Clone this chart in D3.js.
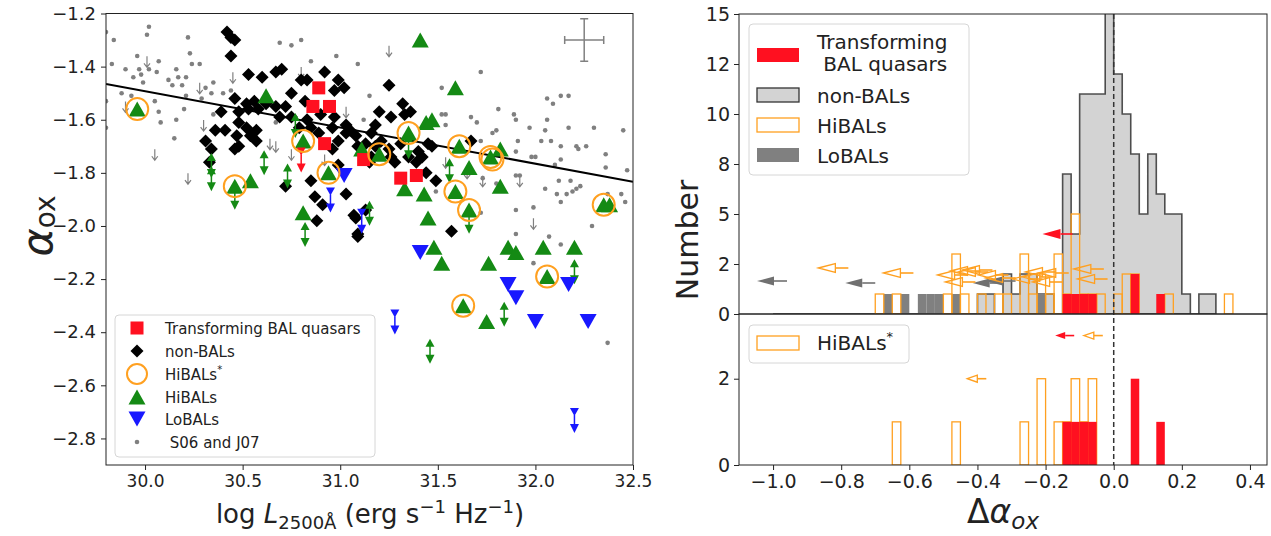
<!DOCTYPE html>
<html>
<head>
<meta charset="utf-8">
<script src="https://cdn.jsdelivr.net/npm/d3@7"></script>
<style>
  body { margin: 0; background: #fff; }
  svg { font-family: "DejaVu Sans", sans-serif; }
</style>
</head>
<body>
<svg id="chart" width="1271" height="536"></svg>
<script>
// ---------- left panel: alpha_ox vs log L2500 ----------
const transformingPts = [[30.89,-1.48],[30.86,-1.55],[30.945,-1.55],[30.92,-1.69],[31.12,-1.75],[31.31,-1.82],[31.39,-1.81]];
const transformingLim = [[30.80,-1.72]];
const nonBalPts = [[30.42,-1.27],[30.44,-1.29],[30.46,-1.30],[30.44,-1.36],[30.53,-1.43],[30.60,-1.44],[30.67,-1.42],[30.70,-1.41],[30.75,-1.50],[30.80,-1.45],[30.83,-1.45],[30.92,-1.42],[30.99,-1.45],[31.02,-1.48],[30.97,-1.49],[30.46,-1.52],[30.56,-1.53],[30.62,-1.54],[30.52,-1.54],[30.67,-1.55],[30.72,-1.55],[30.82,-1.53],[30.53,-1.56],[30.39,-1.57],[30.48,-1.57],[30.58,-1.56],[30.69,-1.59],[30.75,-1.59],[30.83,-1.60],[30.36,-1.64],[30.41,-1.64],[30.48,-1.61],[30.52,-1.63],[30.57,-1.64],[30.54,-1.66],[30.57,-1.68],[30.47,-1.66],[30.48,-1.70],[30.46,-1.71],[30.79,-1.63],[30.85,-1.63],[30.89,-1.65],[30.96,-1.63],[31.03,-1.62],[31.05,-1.64],[31.03,-1.65],[31.08,-1.66],[30.96,-1.71],[30.99,-1.68],[31.09,-1.70],[31.13,-1.69],[30.33,-1.76],[30.72,-1.85],[30.87,-1.89],[30.99,-1.77],[31.03,-1.88],[30.88,-1.98],[31.08,-1.97],[31.09,-2.03],[31.13,-1.94],[31.25,-1.47],[31.20,-1.57],[31.26,-1.59],[31.32,-1.54],[31.36,-1.57],[31.33,-1.58],[31.18,-1.62],[31.16,-1.65],[31.21,-1.68],[31.18,-1.70],[31.25,-1.71],[31.28,-1.76],[31.26,-1.74],[31.31,-1.69],[31.35,-1.74],[31.39,-1.76],[31.40,-1.72],[31.45,-1.69],[31.47,-1.70],[31.42,-1.74],[31.44,-1.80],[31.49,-1.83],[31.67,-1.68],[31.57,-2.02],[31.15,-1.76],[31.16,-1.74],[31.09,-2.04],[30.85,-1.83],[30.91,-1.92],[31.07,-1.96],[30.31,-1.68],[30.34,-1.71],[30.90,-1.58],[30.97,-1.59]];
const hiBalPts = [[30.62,-1.51],[30.81,-1.95],[30.54,-1.83],[31.11,-1.71],[29.96,-1.56],[30.81,-1.68],[30.94,-1.80],[30.46,-1.85],[31.41,-1.30],[31.59,-1.48],[31.44,-1.61],[31.47,-1.60],[31.35,-1.65],[31.20,-1.73],[31.61,-1.70],[31.77,-1.74],[31.82,-1.71],[31.66,-1.78],[31.33,-1.86],[31.43,-1.88],[31.82,-1.85],[31.59,-1.87],[31.66,-1.94],[31.45,-1.97],[32.35,-1.92],[32.38,-1.92],[31.48,-2.08],[31.52,-2.14],[31.76,-2.14],[31.86,-2.08],[31.90,-2.10],[32.04,-2.08],[32.20,-2.08],[32.06,-2.19],[31.63,-2.30],[31.75,-2.36]];
const hiBalLim = [[30.34,-1.74],[30.34,-1.79],[30.61,-1.73],[30.73,-1.78],[30.82,-2.00],[30.77,-1.59],[31.56,-1.76],[31.15,-1.92],[32.20,-2.14],[31.84,-2.30],[31.46,-2.44],[31.35,-1.67],[30.46,-1.86],[31.66,-1.95]];
const loBalPts = [[31.02,-1.81],[31.41,-2.10],[31.86,-2.22],[31.90,-2.27],[32.17,-2.22],[32.00,-2.36],[32.27,-2.36]];
const loBalLim = [[30.95,-1.87],[31.11,-1.95],[31.28,-2.33],[32.20,-2.70]];
const hiBalStarPts = [[29.96,-1.56],[30.46,-1.85],[30.81,-1.68],[30.94,-1.80],[31.35,-1.65],[31.20,-1.73],[31.61,-1.70],[31.77,-1.74],[31.78,-1.75],[31.59,-1.87],[31.66,-1.94],[32.35,-1.92],[32.06,-2.19],[31.63,-2.30]];
const s06j07Pts = [[29.80,-1.27],[29.84,-1.30],[30.02,-1.25],[30.01,-1.28],[30.22,-1.29],[30.23,-1.35],[29.96,-1.36],[30.07,-1.38],[30.24,-1.39],[30.28,-1.39],[29.83,-1.39],[29.90,-1.41],[29.97,-1.41],[30.02,-1.41],[30.06,-1.42],[30.16,-1.41],[30.21,-1.44],[30.17,-1.44],[30.12,-1.45],[29.99,-1.46],[29.94,-1.44],[29.98,-1.43],[30.35,-1.46],[30.31,-1.48],[30.14,-1.47],[30.19,-1.47],[30.34,-1.50],[30.40,-1.50],[30.44,-1.49],[29.88,-1.50],[29.93,-1.51],[30.21,-1.51],[30.29,-1.52],[30.05,-1.53],[29.80,-1.53],[30.07,-1.57],[30.20,-1.56],[30.16,-1.60],[30.08,-1.61],[30.35,-1.58],[30.15,-1.67],[29.80,-1.63],[30.69,-1.31],[30.75,-1.32],[30.80,-1.30],[31.09,-1.39],[30.67,-1.61],[31.72,-1.42],[31.52,-1.48],[32.06,-1.52],[32.13,-1.51],[32.17,-1.51],[32.09,-1.54],[31.81,-1.56],[31.89,-1.58],[31.90,-1.60],[32.06,-1.60],[31.67,-1.59],[31.70,-1.61],[31.54,-1.62],[31.52,-1.58],[31.54,-1.58],[32.17,-1.63],[32.30,-1.63],[31.97,-1.63],[32.05,-1.64],[31.80,-1.64],[31.78,-1.65],[32.08,-1.68],[32.03,-1.68],[31.91,-1.68],[31.72,-1.68],[32.13,-1.70],[32.21,-1.70],[32.26,-1.70],[32.22,-1.71],[31.98,-1.74],[32.00,-1.74],[31.90,-1.72],[32.36,-1.73],[32.13,-1.75],[32.10,-1.77],[32.36,-1.78],[31.90,-1.81],[31.92,-1.81],[31.73,-1.82],[31.80,-1.84],[32.12,-1.83],[32.18,-1.83],[32.05,-1.86],[32.11,-1.88],[32.16,-1.88],[32.19,-1.87],[32.21,-1.86],[32.23,-1.85],[32.13,-1.91],[32.37,-1.88],[32.44,-1.88],[32.46,-1.91],[31.99,-1.93],[31.72,-1.95],[31.90,-1.94],[32.29,-2.00],[31.90,-2.03],[32.07,-2.04],[31.49,-1.87],[32.13,-2.07],[31.99,-2.14],[32.37,-2.44],[30.98,-1.36],[30.85,-1.38],[31.15,-1.51],[31.12,-1.60],[32.47,-1.79],[32.45,-1.64]];
const s06j07Lim = [[30.01,-1.38],[30.28,-1.48],[29.90,-1.55],[30.30,-1.62],[30.05,-1.73],[30.22,-1.82],[30.45,-1.44],[30.64,-1.69],[30.67,-1.70],[30.75,-1.73],[30.80,-1.42],[31.03,-1.57],[30.92,-1.75],[31.25,-1.34],[31.73,-1.83],[31.92,-1.83],[31.54,-1.76],[31.99,-1.99],[31.65,-1.80]];
const fitX = [29.8, 32.5];
const fitY = [-1.465, -1.834];
const typicalErr = { x: 32.25, y: -1.30, dx: 0.1, dy: 0.08 };

const leftXTicks = [30.0, 30.5, 31.0, 31.5, 32.0, 32.5];
const leftYTicks = [-2.8, -2.6, -2.4, -2.2, -2.0, -1.8, -1.6, -1.4, -1.2];

// ---------- right panel: delta alpha_ox histograms ----------
const binWidth = 0.025;
const nonBalRange = [-1.0, 0.3];
const nonBalBinLo = [-0.4,-0.375,-0.325,-0.3,-0.275,-0.25,-0.225,-0.2,-0.15,-0.125,-0.1,-0.075,-0.05,-0.025,0,0.025,0.05,0.075,0.1,0.125,0.15,0.175,0.2,0.25,0.275];
const nonBalCount = [1,1,2,1,2,2,1,1,7,4,11,11,11,16,12,10,8,5,8,6,5,5,1,1,1];
const loBalBinLo = [-0.675,-0.625,-0.575,-0.55,-0.525,-0.475,-0.225];
const loBalCount = [1,1,1,1,1,1,1];
const hiBalBinLo = [-0.7,-0.65,-0.5,-0.475,-0.45,-0.4,-0.35,-0.325,-0.275,-0.25,-0.225,-0.2,-0.175,-0.15,-0.125,-0.1,-0.075,-0.05,0,0.025,0.05,0.15,0.325];
const hiBalCount = [1,1,1,3,1,1,1,1,3,1,2,1,3,1,5,1,1,1,1,2,2,1,1];
const transBinLo = [-0.15,-0.125,-0.1,-0.075,0.05,0.125];
const transCount = [1,1,1,1,2,1];
const hiStarBinLo = [-0.65,-0.475,-0.275,-0.225,-0.175,-0.15,-0.125,-0.1,-0.075];
const hiStarCount = [1,1,1,2,1,1,2,1,2];

// upper limits (arrow tail value, plotting height)
const hiBalLimX = [-0.779,-0.588,-0.429,-0.391,-0.406,-0.368,-0.356,-0.309,-0.288,-0.209,-0.179,-0.171,-0.15,-0.132,-0.029,-0.018];
const hiBalLimY = [2.3,2.05,1.95,2.15,1.6,2.1,2.2,1.95,1.8,1.75,1.85,2.1,1.6,2.05,2.25,1.75];
const loBalLimX = [-0.959,-0.7,-0.326,-0.288];
const loBalLimY = [1.65,1.55,1.55,1.65];
const transLimX = [-0.121];
const transLimY = [4.0];
const transLimBotX = [-0.116];
const transLimBotY = [3.0];
const hiStarLimX = [-0.032,-0.374];
const hiStarLimY = [3.0,2.0];

const rightXTicks = [-1.0, -0.8, -0.6, -0.4, -0.2, 0.0, 0.2, 0.4];
const topYTicks = [0, 2.5, 5, 7.5, 10, 12.5, 15];
const topYLabels = ['0', '2', '5', '8', '10', '12', '15'];
const botYTicks = [0, 2];

// ---------- colours ----------
const RED = '#ff1020', GREEN = '#148a14', BLUE = '#1818ff', ORANGE = '#ffa020', GRAY = '#808080';
const INK = '#222';

const svg = d3.select('#chart');

// scales
const xL = d3.scaleLinear().domain([29.8, 32.5]).range([106, 633]);
const yL = d3.scaleLinear().domain([-2.9, -1.2]).range([465, 13.5]);
const xR = d3.scaleLinear().domain([-1.1, 0.45]).range([739, 1267]);
const yT = d3.scaleLinear().domain([0, 15]).range([314, 14]);
const yB = d3.scaleLinear().domain([0, 3.5]).range([465, 314]);

const defs = svg.append('defs');
function clip(id, x0, y0, x1, y1) {
    defs.append('clipPath').attr('id', id).append('rect')
        .attr('x', x0).attr('y', y0).attr('width', x1 - x0).attr('height', y1 - y0);
    return `url(#${id})`;
}

function styleAxis(g, size) {
    g.select('.domain').remove();
    g.attr('font-family', 'DejaVu Sans').attr('font-size', size);
    g.selectAll('.tick line').attr('stroke', INK);
    g.selectAll('.tick text').attr('fill', INK);
}

// marker shapes
const triUp = (w, h) => `M0,${-h / 2}L${w / 2},${h / 2}L${-w / 2},${h / 2}Z`;
const triDown = (w, h) => `M${-w / 2},${-h / 2}L${w / 2},${-h / 2}L0,${h / 2}Z`;
const diamond = r => `M0,${-r}L${r},0L0,${r}L${-r},0Z`;

// limit marker: small symbol plus an arrow pointing down
function limitMarker(g, pts, color, up) {
    const m = g.selectAll(null).data(pts).join('g')
        .attr('transform', d => `translate(${xL(d[0])},${yL(d[1])})`);
    m.append('path').attr('d', up ? triUp(9, 8) : triDown(9, 8)).attr('fill', color);
    m.append('line').attr('y1', 3).attr('y2', 14).attr('stroke', color).attr('stroke-width', 1.5);
    m.append('path').attr('d', 'M-4.5,12L4.5,12L0,21Z').attr('fill', color);
}

// ================= LEFT PANEL =================
const left = svg.append('g');
const plotL = left.append('g').attr('clip-path', clip('clipL', 106, 13.5, 633, 465));

// S06 and J07 comparison sample
plotL.selectAll('.s06').data(s06j07Pts).join('circle')
    .attr('cx', d => xL(d[0])).attr('cy', d => yL(d[1])).attr('r', 2.3).attr('fill', GRAY);
plotL.selectAll('.s06lim').data(s06j07Lim).join('path')
    .attr('transform', d => `translate(${xL(d[0])},${yL(d[1])})`)
    .attr('d', 'M0,-5L0,6M-3,2L0,6L3,2')
    .attr('fill', 'none').attr('stroke', GRAY).attr('stroke-width', 1.2);

// best-fit relation
plotL.append('line')
    .attr('x1', xL(fitX[0])).attr('y1', yL(fitY[0]))
    .attr('x2', xL(fitX[1])).attr('y2', yL(fitY[1]))
    .attr('stroke', '#000').attr('stroke-width', 2);

// typical error bar
const eb = plotL.append('g').attr('stroke', GRAY).attr('stroke-width', 1.5);
eb.append('line').attr('x1', xL(typicalErr.x - typicalErr.dx)).attr('x2', xL(typicalErr.x + typicalErr.dx))
    .attr('y1', yL(typicalErr.y)).attr('y2', yL(typicalErr.y));
eb.append('line').attr('x1', xL(typicalErr.x)).attr('x2', xL(typicalErr.x))
    .attr('y1', yL(typicalErr.y - typicalErr.dy)).attr('y2', yL(typicalErr.y + typicalErr.dy));
[-1, 1].forEach(s => {
    eb.append('line').attr('x1', xL(typicalErr.x + s * typicalErr.dx)).attr('x2', xL(typicalErr.x + s * typicalErr.dx))
        .attr('y1', yL(typicalErr.y) - 4).attr('y2', yL(typicalErr.y) + 4);
    eb.append('line').attr('y1', yL(typicalErr.y + s * typicalErr.dy)).attr('y2', yL(typicalErr.y + s * typicalErr.dy))
        .attr('x1', xL(typicalErr.x) - 4).attr('x2', xL(typicalErr.x) + 4);
});

// non-BALs
plotL.selectAll('.nb').data(nonBalPts).join('path')
    .attr('transform', d => `translate(${xL(d[0])},${yL(d[1])})`)
    .attr('d', diamond(6.5)).attr('fill', '#000');

// HiBALs
plotL.selectAll('.hb').data(hiBalPts).join('path')
    .attr('transform', d => `translate(${xL(d[0])},${yL(d[1])})`)
    .attr('d', triUp(17, 15)).attr('fill', GREEN);
limitMarker(plotL, hiBalLim, GREEN, true);

// LoBALs
plotL.selectAll('.lb').data(loBalPts).join('path')
    .attr('transform', d => `translate(${xL(d[0])},${yL(d[1])})`)
    .attr('d', triDown(17, 15)).attr('fill', BLUE);
limitMarker(plotL, loBalLim, BLUE, false);

// transforming BAL quasars
plotL.selectAll('.tr').data(transformingPts).join('rect')
    .attr('x', d => xL(d[0]) - 6.5).attr('y', d => yL(d[1]) - 6.5)
    .attr('width', 13).attr('height', 13).attr('fill', RED);
limitMarker(plotL, transformingLim, RED, false);

// HiBALs*
plotL.selectAll('.hs').data(hiBalStarPts).join('circle')
    .attr('cx', d => xL(d[0])).attr('cy', d => yL(d[1])).attr('r', 11)
    .attr('fill', 'none').attr('stroke', ORANGE).attr('stroke-width', 2);

// axes
left.append('g').attr('transform', 'translate(0,465)')
    .call(d3.axisBottom(xL).tickValues(leftXTicks).tickFormat(d3.format('.1f')).tickSize(5).tickPadding(5))
    .call(g => styleAxis(g, 17));
left.append('g').attr('transform', 'translate(106,0)')
    .call(d3.axisLeft(yL).tickValues(leftYTicks).tickFormat(d3.format('.1f')).tickSize(5).tickPadding(5))
    .call(g => styleAxis(g, 18));
left.append('rect').attr('x', 106).attr('y', 13.5).attr('width', 527).attr('height', 451.5)
    .attr('fill', 'none').attr('stroke', INK);

// axis labels
const lx = left.append('text').attr('x', 370).attr('y', 523).attr('text-anchor', 'middle')
    .attr('font-size', 26).attr('fill', INK);
lx.append('tspan').text('log ');
lx.append('tspan').attr('font-style', 'italic').text('L');
lx.append('tspan').attr('font-size', 18).attr('dy', 6).text('2500Å');
lx.append('tspan').attr('dy', -6).text(' (erg s');
lx.append('tspan').attr('font-size', 18).attr('dy', -10).text('−1');
lx.append('tspan').attr('dy', 10).text(' Hz');
lx.append('tspan').attr('font-size', 18).attr('dy', -10).text('−1');
lx.append('tspan').attr('dy', 10).text(')');

const ly = left.append('text').attr('transform', 'translate(52,226) rotate(-90)')
    .attr('text-anchor', 'middle').attr('fill', INK);
ly.append('tspan').attr('font-size', 43).attr('font-style', 'italic').text('α');
ly.append('tspan').attr('font-size', 28).attr('dy', 3).text('ox');

// legend
const legL = left.append('g');
legL.append('rect').attr('x', 115).attr('y', 315).attr('width', 260).attr('height', 142).attr('rx', 4)
    .attr('fill', '#fff').attr('fill-opacity', 0.8).attr('stroke', '#d6d6d6');
const legLRows = [
    { label: 'Transforming BAL quasars', y: 328 },
    { label: 'non-BALs', y: 351 },
    { label: 'HiBALs', star: true, y: 374 },
    { label: 'HiBALs', y: 397 },
    { label: 'LoBALs', y: 419 },
    { label: ' S06 and J07', y: 442 }
];
legL.append('rect').attr('x', 130.5).attr('y', 321.5).attr('width', 13).attr('height', 13).attr('fill', RED);
legL.append('path').attr('transform', 'translate(137,351)').attr('d', diamond(6.5)).attr('fill', '#000');
legL.append('circle').attr('cx', 137).attr('cy', 374).attr('r', 10).attr('fill', 'none').attr('stroke', ORANGE).attr('stroke-width', 2);
legL.append('path').attr('transform', 'translate(137,397)').attr('d', triUp(17, 15)).attr('fill', GREEN);
legL.append('path').attr('transform', 'translate(137,419)').attr('d', triDown(17, 15)).attr('fill', BLUE);
legL.append('circle').attr('cx', 137).attr('cy', 442).attr('r', 2.3).attr('fill', GRAY);
legLRows.forEach(r => {
    const t = legL.append('text').attr('x', 165).attr('y', r.y + 5.5).attr('font-size', 15).attr('fill', INK)
        .attr('xml:space', 'preserve').text(r.label);
    if (r.star) t.append('tspan').attr('font-size', 10).attr('dy', -7).text('*');
});

// ================= RIGHT PANEL =================
const right = svg.append('g');
const plotT = right.append('g').attr('clip-path', clip('clipT', 739, 14, 1267, 314));
const plotB = right.append('g').attr('clip-path', clip('clipB', 739, 314, 1267, 465));

// non-BAL stepfilled histogram over its full range
const nBins = Math.round((nonBalRange[1] - nonBalRange[0]) / binWidth);
const nbCounts = new Array(nBins).fill(0);
nonBalBinLo.forEach((lo, i) => { nbCounts[Math.round((lo - nonBalRange[0]) / binWidth)] = nonBalCount[i]; });
let stepD = `M${xR(nonBalRange[0])},${yT(0)}`;
nbCounts.forEach((c, i) => {
    const lo = nonBalRange[0] + i * binWidth;
    stepD += `L${xR(lo)},${yT(c)}L${xR(lo + binWidth)},${yT(c)}`;
});
stepD += `L${xR(nonBalRange[1])},${yT(0)}Z`;
plotT.append('path').attr('d', stepD).attr('fill', '#d3d3d3')
    .attr('stroke', '#333').attr('stroke-opacity', 0.85).attr('stroke-width', 1.6);

function bars(g, yScale, lo, cnt, fill, stroke) {
    g.selectAll(null).data(lo.map((l, i) => [l, cnt[i]])).join('rect')
        .attr('x', d => xR(d[0])).attr('width', d => xR(d[0] + binWidth) - xR(d[0]))
        .attr('y', d => yScale(d[1])).attr('height', d => yScale(0) - yScale(d[1]))
        .attr('fill', fill).attr('stroke', stroke || 'none').attr('stroke-width', 1.3);
}
bars(plotT, yT, loBalBinLo, loBalCount, GRAY);
bars(plotT, yT, hiBalBinLo, hiBalCount, 'none', ORANGE);
bars(plotT, yT, transBinLo, transCount, RED);

bars(plotB, yB, hiStarBinLo, hiStarCount, 'none', ORANGE);
bars(plotB, yB, transBinLo, transCount, RED);

// leftward arrows for upper limits
function leftArrows(g, yScale, xs, ys, o) {
    xs.forEach((v, i) => {
        const x0 = xR(v), y0 = yScale(ys[i]), tip = x0 - o.len, base = tip + o.head;
        g.append('line').attr('x1', x0).attr('x2', base).attr('y1', y0).attr('y2', y0)
            .attr('stroke', o.color).attr('stroke-width', 1.6);
        g.append('path').attr('d', `M${tip},${y0}L${base},${y0 - o.h / 2}L${base},${y0 + o.h / 2}Z`)
            .attr('fill', o.open ? '#fff' : o.color).attr('fill-opacity', o.open ? 0 : 1)
            .attr('stroke', o.color).attr('stroke-width', o.open ? 1.3 : 0);
    });
}
leftArrows(plotT, yT, loBalLimX, loBalLimY, { len: 30, head: 17, h: 9, color: '#707070' });
leftArrows(plotT, yT, hiBalLimX, hiBalLimY, { len: 30, head: 17, h: 9, color: ORANGE, open: true });
leftArrows(plotT, yT, transLimX, transLimY, { len: 30, head: 18, h: 10, color: RED });
leftArrows(plotB, yB, transLimBotX, transLimBotY, { len: 19, head: 10, h: 7, color: RED });
leftArrows(plotB, yB, hiStarLimX, hiStarLimY, { len: 19, head: 10, h: 7, color: ORANGE, open: true });

// zero line
right.append('line').attr('x1', xR(0)).attr('x2', xR(0)).attr('y1', 14).attr('y2', 465)
    .attr('stroke', '#333').attr('stroke-width', 1.5).attr('stroke-dasharray', '5,3');

// axes
right.append('g').attr('transform', 'translate(739,0)')
    .call(d3.axisLeft(yT).tickValues(topYTicks).tickFormat((d, i) => topYLabels[i]).tickSize(5).tickPadding(4))
    .call(g => styleAxis(g, 19));
right.append('g').attr('transform', 'translate(739,0)')
    .call(d3.axisLeft(yB).tickValues(botYTicks).tickFormat(d3.format('d')).tickSize(5).tickPadding(4))
    .call(g => styleAxis(g, 19));
right.append('g').attr('transform', 'translate(0,465)')
    .call(d3.axisBottom(xR).tickValues(rightXTicks).tickFormat(d3.format('.1f')).tickSize(5).tickPadding(5))
    .call(g => styleAxis(g, 19));
right.append('rect').attr('x', 739).attr('y', 14).attr('width', 528).attr('height', 300)
    .attr('fill', 'none').attr('stroke', INK);
right.append('rect').attr('x', 739).attr('y', 314).attr('width', 528).attr('height', 151)
    .attr('fill', 'none').attr('stroke', INK);

right.append('text').attr('transform', 'translate(698,240) rotate(-90)').attr('text-anchor', 'middle')
    .attr('font-size', 30).attr('fill', INK).text('Number');

const rx = right.append('text').attr('x', 1003).attr('y', 523).attr('text-anchor', 'middle')
    .attr('font-size', 33).attr('fill', INK);
rx.append('tspan').text('Δ');
rx.append('tspan').attr('font-style', 'italic').text('α');
rx.append('tspan').attr('font-style', 'italic').attr('font-size', 23).attr('dy', 6).text('ox');

// legends
const legT = right.append('g');
legT.append('rect').attr('x', 749).attr('y', 24).attr('width', 220).attr('height', 151).attr('rx', 4)
    .attr('fill', '#fff').attr('fill-opacity', 0.8).attr('stroke', '#d6d6d6');
legT.append('rect').attr('x', 757).attr('y', 48).attr('width', 42).attr('height', 14).attr('fill', RED);
legT.append('rect').attr('x', 757).attr('y', 88).attr('width', 42).attr('height', 14)
    .attr('fill', '#d3d3d3').attr('stroke', '#333').attr('stroke-width', 1.3);
legT.append('rect').attr('x', 757).attr('y', 118).attr('width', 42).attr('height', 14)
    .attr('fill', 'none').attr('stroke', ORANGE).attr('stroke-width', 1.3);
legT.append('rect').attr('x', 757).attr('y', 148).attr('width', 42).attr('height', 14).attr('fill', GRAY);
[['Transforming', 49], [' BAL quasars', 71], ['non-BALs', 103], ['HiBALs', 133], ['LoBALs', 163]].forEach(r => {
    legT.append('text').attr('x', 817).attr('y', r[1]).attr('font-size', 20).attr('fill', INK)
        .attr('xml:space', 'preserve').text(r[0]);
});

const legB = right.append('g');
legB.append('rect').attr('x', 749).attr('y', 325).attr('width', 160).attr('height', 38).attr('rx', 4)
    .attr('fill', '#fff').attr('fill-opacity', 0.8).attr('stroke', '#d6d6d6');
legB.append('rect').attr('x', 757).attr('y', 336).attr('width', 42).attr('height', 14)
    .attr('fill', 'none').attr('stroke', ORANGE).attr('stroke-width', 1.3);
const lbt = legB.append('text').attr('x', 817).attr('y', 350).attr('font-size', 20).attr('fill', INK).text('HiBALs');
lbt.append('tspan').attr('font-size', 13).attr('dy', -9).text('*');
</script>
</body>
</html>
